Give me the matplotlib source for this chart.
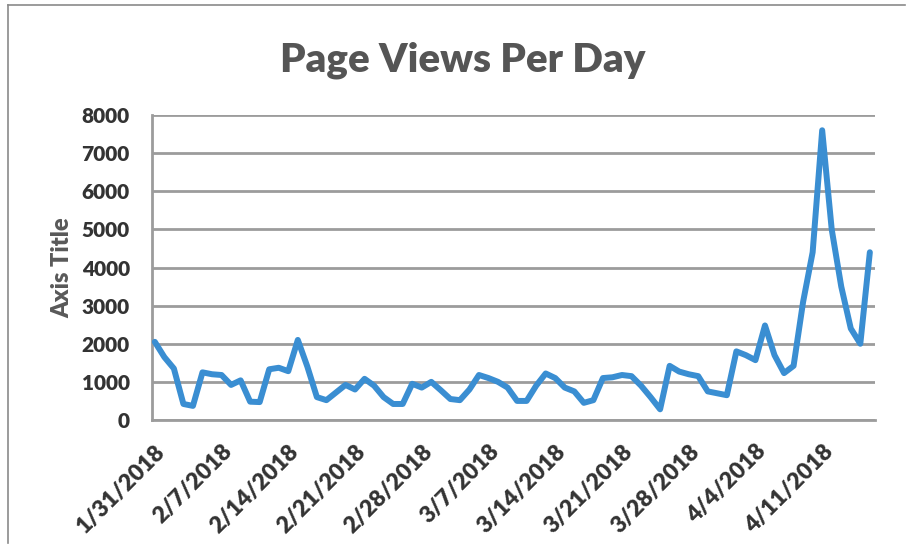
import pandas as pd
import numpy as np
import matplotlib
matplotlib.use('Agg')
import matplotlib.pyplot as plt
from matplotlib.lines import Line2D

# daily page views, one value per day starting 1/31/2018
start_date = '2018-01-31'
views = [2050, 1650, 1350, 420, 370, 1250, 1200, 1180, 920, 1040,
         480, 470, 1330, 1370, 1280, 2100, 1400, 600, 520, 720,
         920, 800, 1080, 900, 600, 420, 420, 950, 850, 1000,
         780, 550, 520, 800, 1180, 1100, 1000, 850, 500, 500,
         900, 1220, 1100, 850, 750, 450, 520, 1100, 1120, 1180,
         1150, 900, 600, 280, 1420, 1270, 1200, 1150, 750, 700,
         650, 1800, 1700, 1570, 2480, 1700, 1230, 1420, 3100, 4400,
         7600, 5000, 3500, 2400, 2000, 4400]
y_ticks = [0, 1000, 2000, 3000, 4000, 5000, 6000, 7000, 8000]

days = pd.date_range(start_date, periods=len(views), freq='D')

plt.rcParams['font.family'] = ['Lato', 'DejaVu Sans']

fig = plt.figure(figsize=(9.06, 5.48), dpi=100)
ax = fig.add_axes([0.1678, 0.2336, 0.7980, 0.5565])

ax.plot(days, views, color='#3a8ed2', lw=4.3, solid_joinstyle='round',
        solid_capstyle='round', zorder=3)

ax.set_ylim(0, 8000)
ax.set_yticks(y_ticks)
ax.set_xlim(days[0] - pd.Timedelta(hours=7), days[-1] + pd.Timedelta(hours=13))
ax.set_xticks(days[::7])
ax.set_xticklabels([f'{d.month}/{d.day}/{d.year}' for d in days[::7]])

ax.grid(axis='y', color='#9c9c9c', lw=2)
ax.set_axisbelow(True)
for side in ['top', 'right']:
    ax.spines[side].set_visible(False)
for side in ['left', 'bottom']:
    ax.spines[side].set_color('#9c9c9c')
    ax.spines[side].set_linewidth(2)
ax.tick_params(length=0)
ax.tick_params(axis='y', pad=16)
ax.tick_params(axis='x', pad=15)

for lab in ax.get_yticklabels():
    lab.set_fontsize(15)
    lab.set_fontweight('heavy')
    lab.set_color('#333333')
for lab in ax.get_xticklabels():
    lab.set_fontsize(16.5)
    lab.set_fontweight('heavy')
    lab.set_color('#333333')
    lab.set_rotation(45)
    lab.set_ha('right')
    lab.set_rotation_mode('anchor')

ax.set_ylabel('Axis Title', fontsize=17, fontweight='heavy', color='#595959',
              labelpad=6)
fig.suptitle('Page Views Per Day', fontsize=29, fontweight='heavy',
             color='#555555', x=0.511, y=0.925)

# outer chart border (top and left edge visible in the scan)
fig.add_artist(Line2D([0.009, 0.999], [0.991, 0.991], color='#8a8a8a', lw=1.2))
fig.add_artist(Line2D([0.009, 0.009], [0.991, 0.01], color='#8a8a8a', lw=1.2))

fig.savefig('out.png', dpi=100)
